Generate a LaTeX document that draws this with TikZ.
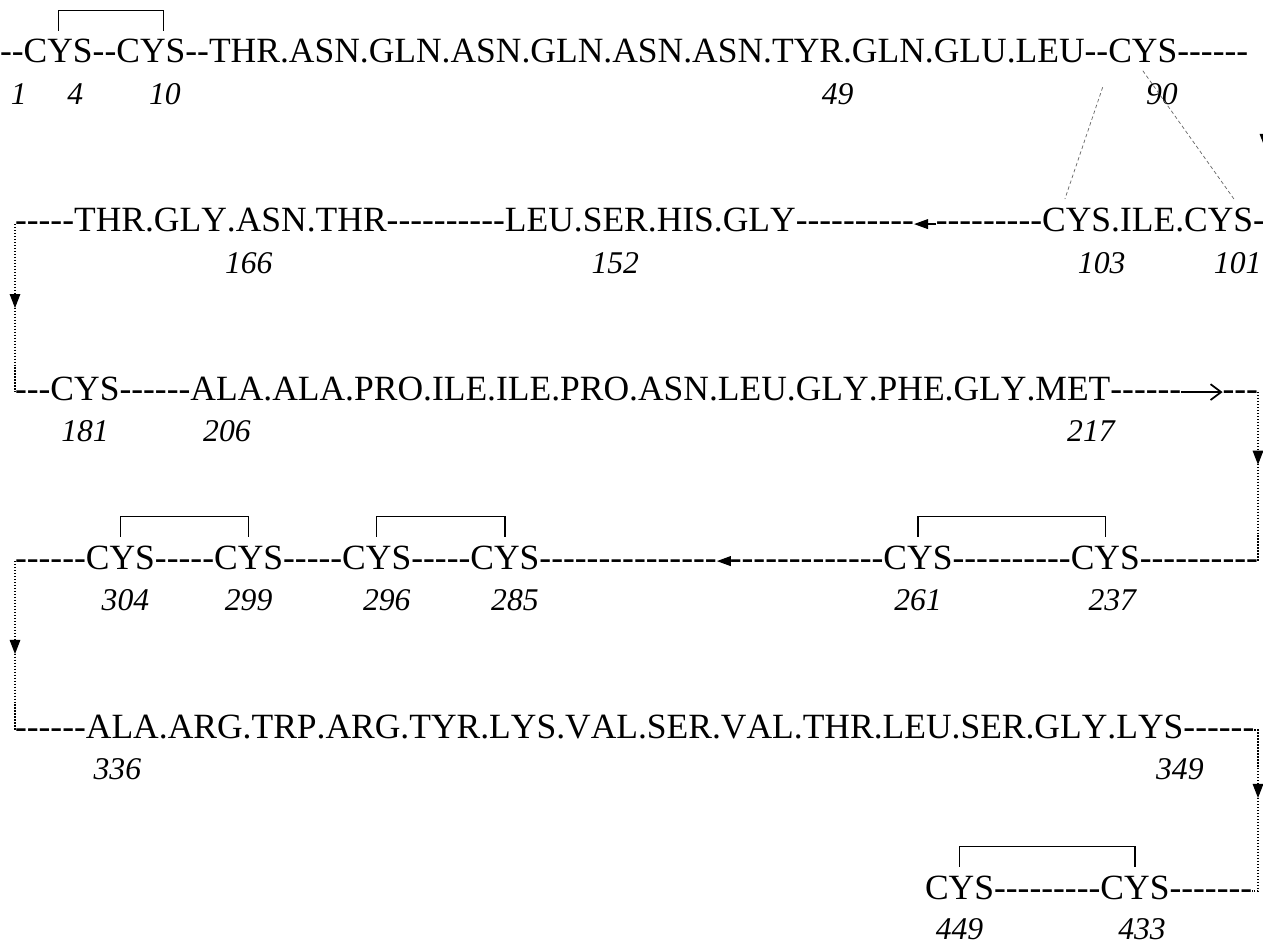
\documentclass[tikz,border=0pt]{standalone}
\usepackage{fontspec}
\setmainfont{Liberation Serif}[Kerning=Off]
\usetikzlibrary{positioning, arrows.meta, calc, decorations.markings}

% a run of single hyphens (no en-dash ligature)
\newcommand{\dsh}[1]{\foreach \k in {1,...,#1}{-\kern0pt}}

\begin{document}
\begin{tikzpicture}[
  font=\fontsize{20.2}{24}\selectfont,
  % residues of the chain
  res/.style={inner sep=0pt, outer sep=0pt, text height=13.4pt, text depth=4.4pt},
  % sequence numbers
  num/.style={inner sep=0pt, text height=12.2pt, text depth=0pt, font=\fontsize{18}{21}\selectfont\itshape},
  % connectors
  bond/.style={draw, line width=0.7pt},
  ssbond/.style={draw=black!60, line width=0.4pt, dash pattern=on 2pt off 1.5pt},
  rowlink/.style={draw, line width=0.7pt, densely dotted},
  tipat/.style={postaction={decorate}, decoration={markings,
      mark=at position #1 with {\arrow{Triangle[length=8pt, width=6pt]}}}},
  backtip/.style={draw, line width=1pt, -{Triangle[length=8pt, width=5.5pt]}},
  fwdtip/.style={draw, line width=1pt, -{Straight Barb[length=6pt, width=9pt]}}
]
  \path[use as bounding box, fill=white] (0,0) rectangle (25.26,-18.94);

  \coordinate (rcol) at (25.16,0);
  \coordinate (rtop) at (25.3,0);

  % ---- row 1
  \node[res, anchor=base west] (r1a) at (0,-1.26) {\dsh2};
  \node[res, right=0pt of r1a] (c4) {CYS};
  \node[res, right=0pt of c4] (r1b) {\dsh2};
  \node[res, right=0pt of r1b] (c10) {CYS};
  \node[res, right=0pt of c10] (r1c) {\dsh2THR.ASN.GLN.ASN.GLN.ASN.ASN.};
  \node[res, right=0pt of r1c] (tyr49) {TYR};
  \node[res, right=0pt of tyr49] (r1d) {.GLN.GLU.LEU\dsh2};
  \node[res, right=0pt of r1d] (c90) {CYS};
  \node[res, right=0pt of c90] (r1e) {\dsh6};

  \node[num, below=7pt of r1a, xshift=0.14cm] (n1) {1};
  \node[num, below=7pt of c4, xshift=0.34cm] (n4) {4};
  \node[num, below=7pt of c10, xshift=0.28cm] (n10) {10};
  \node[num, below=7pt of tyr49, xshift=0.6cm] (n49) {49};
  \node[num, below=7pt of c90, xshift=0.38cm] (n90) {90};

  % ---- row 2
  \node[res, anchor=base west] (r2a) at (0.3,-4.64) {\dsh5THR.GLY.};
  \node[res, right=0pt of r2a] (asn166) {ASN};
  \node[res, right=0pt of asn166] (r2b) {.THR\dsh{10}LEU.};
  \node[res, right=0pt of r2b] (ser152) {SER};
  \node[res, right=0pt of ser152] (r2c) {.HIS.GLY\dsh{10}};
  \node[res, anchor=base east] (r2f) at (25.3,-4.64) {-};
  \node[res, left=0pt of r2f] (c101) {CYS};
  \node[res, left=0pt of c101] (r2e) {.ILE.};
  \node[res, left=0pt of r2e] (c103) {CYS};
  \node[res, left=0pt of c103] (r2d) {\dsh9};

  \node[num, below=7pt of asn166, xshift=-0.45cm] (n166) {166};
  \node[num, below=7pt of ser152] (n152) {152};
  \node[num, below=7pt of c103, xshift=0.5cm] (n103) {103};
  \node[num, below=7pt of c101, xshift=0.38cm] (n101) {101};

  % ---- row 3
  \node[res, anchor=base west] (r3a) at (0.3,-8.0) {\dsh3};
  \node[res, right=0pt of r3a] (c181) {CYS};
  \node[res, right=0pt of c181] (r3b) {\dsh6};
  \node[res, right=0pt of r3b] (ala206) {ALA};
  \node[res, right=0pt of ala206] (r3c) {.ALA.PRO.ILE.ILE.PRO.ASN.LEU.GLY.PHE.GLY.};
  \node[res, right=0pt of r3c] (met217) {MET};
  \node[res, right=0pt of met217] (r3z) {\dsh6};
  \node[res, anchor=base east] (r3w) at (25.16,-8.0) {\dsh3};

  \node[num, below=7pt of c181] (n181) {181};
  \node[num, below=7pt of ala206] (n206) {206};
  \node[num, below=7pt of met217, xshift=0.36cm] (n217) {217};

  % ---- row 4
  \node[res, anchor=base west] (r4a) at (0.3,-11.38) {\dsh6};
  \node[res, right=0pt of r4a] (c304) {CYS};
  \node[res, right=0pt of c304] (r4b) {\dsh5};
  \node[res, right=0pt of r4b] (c299) {CYS};
  \node[res, right=0pt of c299] (r4c) {\dsh5};
  \node[res, right=0pt of r4c] (c296) {CYS};
  \node[res, right=0pt of c296] (r4d) {\dsh5};
  \node[res, right=0pt of r4d] (c285) {CYS};
  \node[res, right=0pt of c285] (r4e) {\dsh{15}};
  \node[res, anchor=base east] (r4z) at (25.16,-11.38) {\dsh{10}};
  \node[res, left=0pt of r4z] (c237) {CYS};
  \node[res, left=0pt of c237] (r4y) {\dsh{10}};
  \node[res, left=0pt of r4y] (c261) {CYS};
  \node[res, left=0pt of c261] (r4x) {\dsh{13}};

  \node[num, below=7pt of c304, xshift=0.1cm] (n304) {304};
  \node[num, below=7pt of c299] (n299) {299};
  \node[num, below=7pt of c296, xshift=0.2cm] (n296) {296};
  \node[num, below=7pt of c285, xshift=0.2cm] (n285) {285};
  \node[num, below=7pt of c261] (n261) {261};
  \node[num, below=7pt of c237, xshift=0.14cm] (n237) {237};

  % ---- row 5
  \node[res, anchor=base west] (r5a) at (0.3,-14.76) {\dsh6};
  \node[res, right=0pt of r5a] (ala336) {ALA};
  \node[res, right=0pt of ala336] (r5b) {.ARG.TRP.ARG.TYR.LYS.VAL.SER.VAL.THR.LEU.SER.GLY.};
  \node[res, right=0pt of r5b] (lys349) {LYS};
  \node[res, right=0pt of lys349] (r5z) {\dsh6};

  \node[num, below=7pt of ala336, xshift=-0.1cm] (n336) {336};
  \node[num, below=7pt of lys349, xshift=0.6cm] (n349) {349};

  % ---- row 6
  \node[res, anchor=base west] (c449) at (18.5,-17.98) {CYS};
  \node[res, right=0pt of c449] (r6a) {\dsh9};
  \node[res, right=0pt of r6a] (c433) {CYS};
  \node[res, right=0pt of c433] (r6z) {\dsh7};

  \node[num, below=6pt of c449] (n449) {449};
  \node[num, below=6pt of c433, xshift=0.14cm] (n433) {433};

  % disulfide brackets
  \draw[bond] ([yshift=5pt]c4.north) -- ++(0,0.4) -| ([xshift=0.25cm, yshift=5pt]c10.north);
  \draw[bond] ([yshift=5pt]c304.north) -- ++(0,0.4) -| ([yshift=5pt]c299.north);
  \draw[bond] ([yshift=5pt]c296.north) -- ++(0,0.4) -| ([yshift=5pt]c285.north);
  \draw[bond] ([yshift=5pt]c261.north) -- ++(0,0.4) -| ([yshift=5pt]c237.north);
  \draw[bond] ([yshift=5pt]c449.north) -- ++(0,0.4) -| ([yshift=5pt]c433.north);

  % crossing bonds between row 1 and row 2
  \draw[ssbond, shorten <=0.35cm, shorten >=0.2cm] (c90.south west) -- ([xshift=-0.3cm]c103.north);
  \draw[ssbond, shorten >=0.2cm] (c90.south) -- ([xshift=0.44cm]c101.north);

  % direction arrows inside the rows
  \draw[backtip] (r2d.west) -- (r2c.east);
  \draw[fwdtip] (r3z.east) -- (r3w.west);
  \draw[backtip] (r4x.west) -- (r4e.east);

  % turns from one row to the next
  \draw[rowlink, tipat=0.55] (r1e.east -| rtop) -- (r2f.east -| rtop) -- (r2f.east);
  \draw[rowlink, tipat=0.5] (r2a.west) -- (r3a.west);
  \draw[rowlink, tipat=0.43] (r3w.east) -- (r4z.east);
  \draw[rowlink, tipat=0.55] (r4a.west) -- (r5a.west);
  \draw[rowlink, tipat=0.42] (r5z.east) -| (rcol |- r6z.east) -- (r6z.east);
\end{tikzpicture}
\end{document}
